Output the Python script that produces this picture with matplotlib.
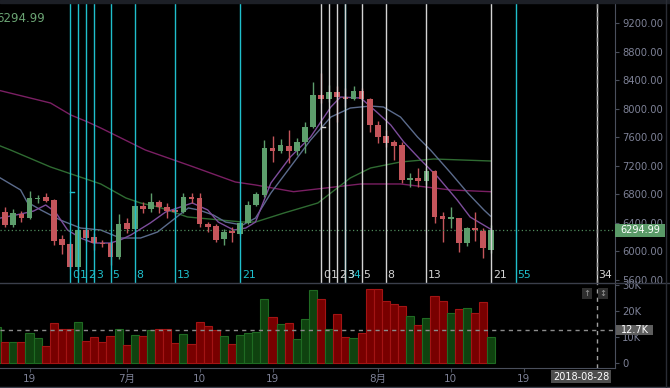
import matplotlib.pyplot as plt
from matplotlib.patches import Rectangle
from matplotlib.transforms import blended_transform_factory

plt.rcParams['font.family'] = ['DejaVu Sans', 'Noto Sans CJK SC']

# daily candles, index 0 = 2018-06-15 ... 61 = 2018-08-15
opens = [6440, 6553, 6371, 6529, 6464, 6735, 6763, 6721, 6174, 6104,
         5778, 6300, 6202, 6123, 6123, 5927, 6394, 6314, 6641, 6590,
         6697, 6618, 6581, 6557, 6767, 6744, 6384, 6356, 6170, 6291,
         6244, 6398, 6650, 6795, 7444, 7412, 7477, 7412, 7538, 7748,
         8191, 8131, 8229, 8168, 8131, 8252, 8131, 7771, 7617, 7528,
         7491, 7001, 7024, 6991, 7127, 6497, 6459, 6464, 6114, 6324,
         6291, 6020]
highs = [6560, 6618, 6590, 6567, 6847, 6791, 6823, 6730, 6230, 6137,
         6347, 6338, 6254, 6160, 6160, 6525, 6464, 6721, 6697, 6814,
         6721, 6674, 6604, 6814, 6814, 6814, 6417, 6384, 6310, 6347,
         6417, 6700, 6830, 7561, 7620, 7570, 7701, 7584, 7818, 8378,
         8504, 8331, 8317, 8285, 8317, 8285, 8145, 7827, 7701, 7561,
         7538, 7103, 7164, 7164, 7141, 6557, 6627, 6464, 6347, 6557,
         6324, 6370]
lows = [6400, 6338, 6347, 6408, 6460, 6674, 6693, 6090, 5964, 5764,
        5759, 6137, 6020, 6067, 5810, 5890, 6263, 6300, 6534, 6548,
        6534, 6464, 6511, 6534, 6674, 6347, 6277, 6137, 6090, 6128,
        6230, 6380, 6630, 6767, 7258, 7374, 7234, 7351, 7374, 7725,
        8075, 8098, 7818, 8028, 8122, 8122, 7678, 7514, 7458, 7281,
        6954, 6907, 6907, 6931, 6394, 6137, 6324, 5997, 6080, 6150,
        5904, 5974]
closes = [6500, 6371, 6534, 6464, 6744, 6753, 6711, 6151, 6095, 5787,
          6300, 6193, 6114, 6100, 5918, 6384, 6319, 6637, 6590, 6697,
          6618, 6567, 6557, 6758, 6730, 6384, 6347, 6160, 6277, 6263,
          6403, 6650, 6800, 7444, 7410, 7491, 7412, 7538, 7748, 8191,
          8131, 8229, 8168, 8131, 8252, 8131, 7771, 7608, 7514, 7477,
          7001, 7024, 6991, 7127, 6487, 6459, 6478, 6114, 6324, 6300,
          6044, 6294.99]
# volume in thousands
volumes = [13.7, 8.1, 8.1, 8.1, 11.4, 9.5, 6.4, 15.5, 12.9, 12.9,
           15.9, 8.5, 10.0, 8.1, 10.4, 13.1, 6.9, 10.8, 10.4, 12.7,
           13.1, 13.1, 7.7, 11.2, 7.3, 15.9, 14.2, 12.7, 10.4, 7.3,
           10.8, 11.7, 12.1, 24.6, 17.6, 15.0, 15.5, 9.1, 16.9, 28.1,
           24.6, 13.1, 18.8, 10.1, 9.5, 11.7, 28.3, 28.3, 24.0, 22.7,
           21.9, 18.1, 14.6, 17.2, 25.8, 24.0, 19.1, 20.6, 21.0, 19.1,
           23.6, 10.1]

# moving averages (day index, price)
ma_fast_x = [0.4, 2.9, 4.5, 6.0, 7.2, 8.7, 10.3, 11.9, 14.0, 15.2, 16.5,
             18.9, 20.8, 24.1, 26.0, 27.3, 29.2, 30.7, 31.9, 33.8, 36.2,
             38.7, 41.2, 42.4, 44.9, 47.0, 48.6, 50.2, 52.3, 54.4, 56.8,
             58.4, 60.9]
ma_fast = [6468, 6524, 6566, 6651, 6552, 6300, 6188, 6118, 6118, 6160, 6230,
           6398, 6552, 6679, 6581, 6412, 6300, 6328, 6412, 6959, 7323,
           7603, 8023, 8163, 8149, 7939, 7771, 7533, 7281, 7043, 6721,
           6482, 6314]
ma_mid_x = [0.4, 2.9, 3.7, 5.4, 7.8, 10.3, 12.8, 15.2, 17.7, 19.8, 23.6,
            24.9, 26.7, 28.2, 30.3, 31.9, 33.8, 36.2, 38.7, 41.2, 43.6,
            46.1, 47.7, 49.8, 51.9, 53.5, 56.0, 58.1, 60.1, 60.9]
ma_mid = [7029, 6861, 6693, 6581, 6440, 6328, 6300, 6188, 6188, 6272, 6609,
          6581, 6510, 6412, 6370, 6468, 6819, 7183, 7561, 7883, 8009,
          8037, 8023, 7883, 7603, 7421, 7099, 6819, 6581, 6496]
ma_slow_x = [0.4, 1.65, 6.6, 12.8, 15.9, 17.7, 19.9, 23.5, 24.9, 30.3,
             31.9, 35.4, 39.6, 43.6, 46.1, 49.8, 53.9, 60.9]
ma_slow = [7477, 7421, 7183, 6945, 6749, 6679, 6623, 6483, 6468, 6412,
           6412, 6538, 6679, 7029, 7169, 7253, 7295, 7267]
ma_long_x = [0.4, 4.1, 6.6, 9.1, 11.2, 12.8, 18.3, 24.1, 29.4, 31.9,
             36.6, 44.9, 49.8, 56.0, 60.9]
ma_long = [8252, 8149, 8079, 7911, 7813, 7729, 7421, 7190, 6973, 6931,
           6837, 6945, 6945, 6861, 6837]

# fibonacci time zones
fib_levels = [0, 1, 2, 3, 5, 8, 13, 21, 34, 55]
fib_starts = [9, 40]
fib_anchor_prices = [6833, 7743]

date_ticks = [4, 16, 25, 34, 47, 56, 65]
date_labels = ['19', '7月', '10', '19', '8月', '10', '19']
cursor_idx = 74
cursor_date = '2018-08-28'
cursor_vol = 12.7

GREEN = '#5d9e6c'
RED = '#c4555b'
AXIS = '#4a4f5c'
TXT = '#7d8196'

W, H = 670, 388
fig = plt.figure(figsize=(W / 100, H / 100), dpi=100, facecolor='black')


def box(x0, y0, x1, y1):
    return [x0 / W, 1 - y1 / H, (x1 - x0) / W, (y1 - y0) / H]


ax = fig.add_axes(box(0, 3, 615, 283), facecolor='black')
axv = fig.add_axes(box(0, 283, 615, 368), facecolor='black')
xmin, xmax = 0.358, 76.28

idx = list(range(len(opens)))
cols = [GREEN if c >= o else RED for o, c in zip(opens, closes)]

# MA lines
ax.plot(ma_long_x, ma_long, color='#7a1f63', lw=1, zorder=2)
ax.plot(ma_slow_x, ma_slow, color='#2f6b32', lw=1, zorder=2)
ax.plot(ma_mid_x, ma_mid, color='#5b6b8c', lw=1, zorder=2)
ax.plot(ma_fast_x, ma_fast, color='#7d4d9c', lw=1, zorder=2)

# candles
ax.vlines(idx, lows, highs, colors=cols, lw=1, zorder=3)
bottoms = [min(o, c) for o, c in zip(opens, closes)]
heights = [max(abs(c - o), 14) for o, c in zip(opens, closes)]
ax.bar(idx, heights, bottom=bottoms, width=0.7, color=cols, lw=0, zorder=4)

# last price line
last = closes[-1]
ax.axhline(last, color='#4f8a5b', lw=0.9, ls=(0, (1, 2)), zorder=3)

# fib time zones
blend = blended_transform_factory(ax.transData, ax.transAxes)
for start, colr, ap in zip(fib_starts, ['#1fbfcc', '#d4d4d4'], fib_anchor_prices):
    for lv in fib_levels:
        k = start + lv
        if k > xmax:
            continue
        ax.axvline(k, color=colr, lw=1, zorder=5)
        ax.text(k + 0.22, 0.028, str(lv), transform=blend, color=colr,
                fontsize=7.8, ha='left', va='center', zorder=6)
    ax.plot([start, start + 0.45], [ap, ap], color=colr, lw=1, zorder=6)

# crosshair
for a in (ax, axv):
    a.axvline(cursor_idx, color='#a0a0a0', lw=1, ls=(0, (3, 3)), zorder=7)
axv.axhline(cursor_vol, color='#8c8c8c', lw=1, ls=(0, (3, 3)), zorder=7)

# volume
vfill = ['#0f420f' if c == GREEN else '#780000' for c in cols]
vedge = ['#1f6a22' if c == GREEN else '#a31414' for c in cols]
axv.bar(idx, volumes, width=1.0, color=vfill, edgecolor=vedge, lw=0.8, zorder=3)

# axes styling
for a in (ax, axv):
    a.set_xlim(xmin, xmax)
    for s in ('top', 'left', 'bottom'):
        a.spines[s].set_visible(False)
    a.spines['right'].set_color(AXIS)
    a.yaxis.tick_right()
    a.tick_params(axis='y', color=AXIS, labelcolor=TXT, labelsize=7.2,
                  length=3, pad=2)

ax.set_ylim(5558, 9480)
pticks = list(range(5600, 9201, 400))
ax.set_yticks(pticks)
ax.set_yticklabels([f'{v:.2f}' for v in pticks])
ax.set_xticks([])

axv.set_ylim(-1.92, 30.77)
axv.set_yticks([0, 10, 20, 30])
axv.set_yticklabels(['0', '10K', '20K', '30K'])
axv.spines['bottom'].set_visible(True)
axv.spines['bottom'].set_color(AXIS)
axv.set_xticks(date_ticks)
axv.set_xticklabels(date_labels)
axv.tick_params(axis='x', color=AXIS, labelcolor=TXT, labelsize=7.5,
                length=3, pad=1.5)

# price tag on right axis
pb = blended_transform_factory(ax.transAxes, ax.transData)
ax.add_patch(Rectangle((1.0, last - 86), 50 / 615, 172, transform=pb,
                       facecolor='#5a9a68', edgecolor='none', clip_on=False, zorder=10))
ax.text(1 + 25 / 615, last, f'{last:.2f}', transform=pb, color='white',
        fontsize=7, ha='center', va='center', zorder=11, clip_on=False)

vb = blended_transform_factory(axv.transAxes, axv.transData)
axv.add_patch(Rectangle((1.0016, cursor_vol - 2.1), 37 / 615, 4.2, transform=vb,
                        facecolor='#5e5e5e', edgecolor='none', clip_on=False, zorder=10))
axv.text(1.0016 + 18.5 / 615, cursor_vol, f'{cursor_vol}K', transform=vb,
         color='white', fontsize=7, ha='center', va='center', zorder=11, clip_on=False)

# overlay for frame and labels
ov = fig.add_axes([0, 0, 1, 1])
ov.set_xlim(0, W)
ov.set_ylim(H, 0)
ov.axis('off')
ov.add_patch(Rectangle((0, 0), W, 3, color='#1c1f26'))
ov.plot([0, W], [283, 283], color='#3b3f4b', lw=1)
ov.plot([0, W], [386.5, 386.5], color='#3b3f4b', lw=1)
ov.plot([666, 666], [0, H], color='#2a2d35', lw=1)

ov.text(-4, 19, f'{last:.2f}', color='#6aa373', fontsize=8.5, ha='left', va='center')

ov.add_patch(Rectangle((551, 370), 60, 13, facecolor='#4d4d4d', edgecolor='none'))
ov.text(581, 376.5, cursor_date, color='white', fontsize=7, ha='center', va='center')

for x0, glyph in ((582, '↑'), (598, '↕')):
    ov.add_patch(Rectangle((x0, 288), 10, 11, facecolor='#2e2e2e', edgecolor='none'))
    ov.text(x0 + 5, 293.5, glyph, color='#9a9a9a', fontsize=6, ha='center', va='center')

fig.savefig('out.png', dpi=100, facecolor='black')
